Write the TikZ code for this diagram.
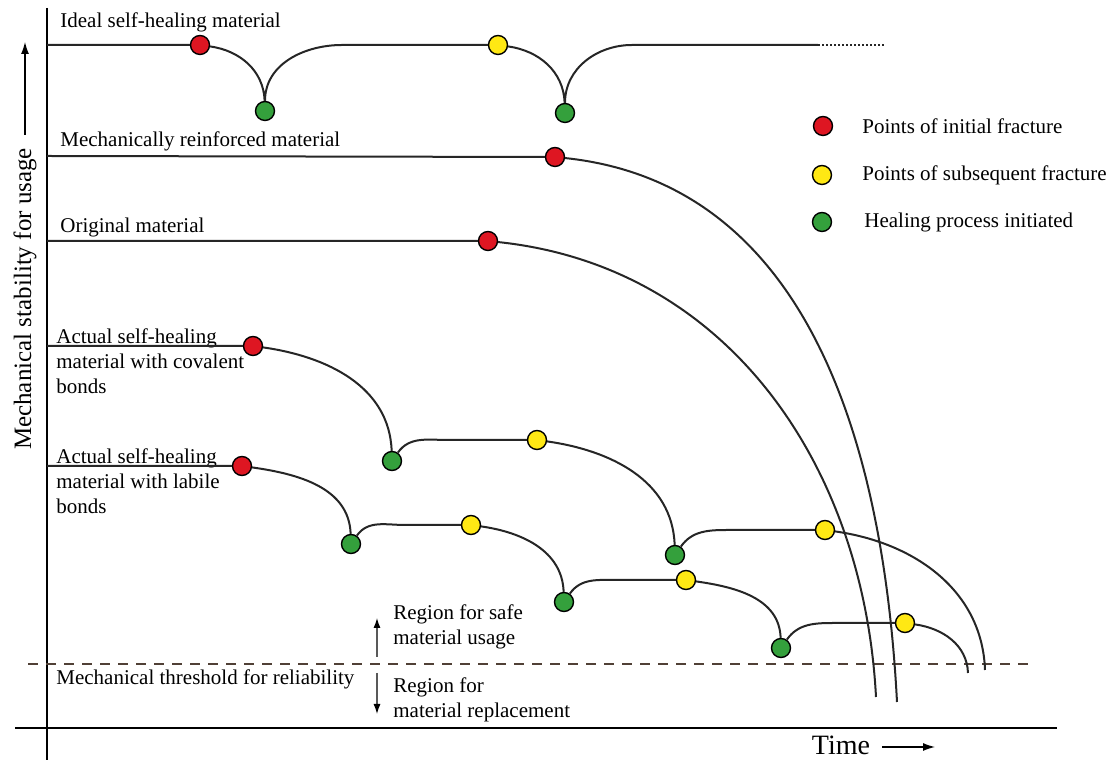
\documentclass[tikz,border=0pt]{standalone}
\usepackage{fontspec}
\setmainfont{Liberation Serif}
\usepackage{xcolor}
\usepackage{tikz}
\usetikzlibrary{arrows.meta}
\definecolor{fracred}{RGB}{222,22,34}
\definecolor{fracyel}{RGB}{255,232,20}
\definecolor{healgrn}{RGB}{52,160,60}
\definecolor{threshcol}{RGB}{80,64,54}
\tikzstyle{fdot} = [circle, draw=black, line width=0.7pt, minimum size=9.5pt, inner sep=0pt]
\tikzstyle{redpt} = [fdot, fill=fracred]
\tikzstyle{yelpt} = [fdot, fill=fracyel]
\tikzstyle{grnpt} = [fdot, fill=healgrn]
\tikzstyle{crv} = [line width=1pt, black!85]
\tikzstyle{lbl} = [inner sep=0pt, font=\fontsize{10.5}{12.5}\selectfont, align=left]
\tikzstyle{axarr} = [-{Latex[length=6pt,width=4pt]}, line width=0.6pt]
\tikzstyle{regarr} = [-{Latex[length=5pt,width=3.5pt,black]}, line width=0.6pt, gray!70!black]

\begin{document}
\begin{tikzpicture}[x=0.5pt,y=0.5pt]
    \useasboundingbox (0,0) rectangle (1115,760);
    % axes
    \coordinate (yTop) at (47,752);
    \coordinate (yBot) at (47,0);
    \coordinate (xL) at (15,32);
    \coordinate (xR) at (1057,32);
    \draw[line width=1.3pt] (yTop) -- (yBot);
    \draw[line width=1.3pt] (xL) -- (xR);
    \node[rotate=90, inner sep=0pt, font=\fontsize{12.5}{14}\selectfont] (yLab) at (25,461) {Mechanical stability for usage};
    \coordinate (yArr0) at (25,625);
    \coordinate (yArr1) at (25,718);
    \draw[axarr] (yArr0) -- (yArr1);
    \node[inner sep=0pt, font=\fontsize{14}{16}\selectfont] (tLab) at (841,15) {Time};
    \coordinate (tArr0) at (882,13);
    \coordinate (tArr1) at (935,13);
    \draw[axarr] (tArr0) -- (tArr1);

    % legend
    \node[redpt] (lgR) at (823,634) {};
    \node[yelpt] (lgY) at (822,585) {};
    \node[grnpt] (lgG) at (822,538) {};
    \node[lbl, anchor=west] (lgRtxt) at (862,634) {Points of initial fracture};
    \node[lbl, anchor=west] (lgYtxt) at (862,585) {Points of subsequent fracture};
    \node[lbl, anchor=west] (lgGtxt) at (864,538) {Healing process initiated};

    % threshold
    \coordinate (thL) at (28,96);
    \coordinate (thR) at (1030,96);
    \draw[line width=1pt, dash pattern=on 5pt off 4pt, threshcol] (thL) -- (thR);
    \node[lbl, anchor=base west] (thTxt) at (56,75) {Mechanical threshold for reliability};
    \coordinate (upA) at (377,103);
    \coordinate (upB) at (377,142);
    \coordinate (dnA) at (377,87);
    \coordinate (dnB) at (377,46);
    \draw[regarr] (upA) -- (upB);
    \draw[regarr] (dnA) -- (dnB);
    \node[lbl, anchor=west] (safeTxt) at (393,133) {Region for safe\\material usage};
    \node[lbl, anchor=west] (replTxt) at (393,60) {Region for\\material replacement};

    % labels of the curves
    \node[lbl, anchor=base west] (idTxt) at (60,732) {Ideal self-healing material};
    \node[lbl, anchor=base west] (mrTxt) at (60,613) {Mechanically reinforced material};
    \node[lbl, anchor=base west] (orTxt) at (60,527) {Original material};
    \node[lbl, anchor=north west] (cvTxt) at (56,432) {Actual self-healing\\material with covalent\\bonds};
    \node[lbl, anchor=north west] (lbTxt) at (56,312) {Actual self-healing\\material with labile\\bonds};

    % ideal
    \coordinate (id0) at (47,715);
    \node[redpt] (idR) at (200,715) {};
    \node[grnpt] (idG1) at (265,649) {};
    \coordinate (id1) at (342,715);
    \node[yelpt] (idY) at (498,715) {};
    \node[grnpt] (idG2) at (565,647) {};
    \coordinate (id2) at (632,715);
    \coordinate (id3) at (818,715);
    \coordinate (id4) at (884,715);
    \draw[crv] (id0) -- (idR) to[out=-8,in=92] (idG1) to[out=90,in=180] (id1) -- (idY) to[out=-8,in=92] (idG2) to[out=90,in=180] (id2) -- (id3);
    \draw[crv, dash pattern=on 1pt off 1pt] (id3) -- (id4);

    % reinforced and original
    \coordinate (mr0) at (47,604);
    \node[redpt] (mrR) at (555,603) {};
    \coordinate (mr1) at (897,58);
    \draw[crv] (mr0) -- (mrR) to[out=-6,in=93] (mr1);
    \coordinate (or0) at (47,519);
    \node[redpt] (orR) at (488,519) {};
    \coordinate (or1) at (876,63);
    \draw[crv] (or0) -- (orR) to[out=-6,in=93] (or1);

    % covalent
    \coordinate (cv0) at (47,414);
    \node[redpt] (cvR) at (253,414) {};
    \node[grnpt] (cvG1) at (392,299) {};
    \coordinate (cv1) at (448,320);
    \node[yelpt] (cvY1) at (537,320) {};
    \node[grnpt] (cvG2) at (675,205) {};
    \coordinate (cv2) at (728,230);
    \node[yelpt] (cvY2) at (825,230) {};
    \coordinate (cv3) at (985,90);
    \draw[crv] (cv0) -- (cvR) to[out=-8,in=92] (cvG1) to[out=55,in=180] (cv1) -- (cvY1) to[out=-8,in=92] (cvG2) to[out=55,in=180] (cv2) -- (cvY2) to[out=-8,in=92] (cv3);

    % labile
    \coordinate (lb0) at (47,294);
    \node[redpt] (lbR) at (242,294) {};
    \node[grnpt] (lbG1) at (351,216) {};
    \coordinate (lb1) at (405,235);
    \node[yelpt] (lbY1) at (471,235) {};
    \node[grnpt] (lbG2) at (564,158) {};
    \coordinate (lb2) at (617,180);
    \node[yelpt] (lbY2) at (686,180) {};
    \node[grnpt] (lbG3) at (781,112) {};
    \coordinate (lb3) at (835,137);
    \node[yelpt] (lbY3) at (905,137) {};
    \coordinate (lb4) at (968,87);
    \draw[crv] (lb0) -- (lbR) to[out=-8,in=92] (lbG1) to[out=55,in=180] (lb1) -- (lbY1) to[out=-8,in=92] (lbG2) to[out=55,in=180] (lb2) -- (lbY2) to[out=-8,in=92] (lbG3) to[out=55,in=180] (lb3) -- (lbY3) to[out=-8,in=92] (lb4);
\end{tikzpicture}
\end{document}
